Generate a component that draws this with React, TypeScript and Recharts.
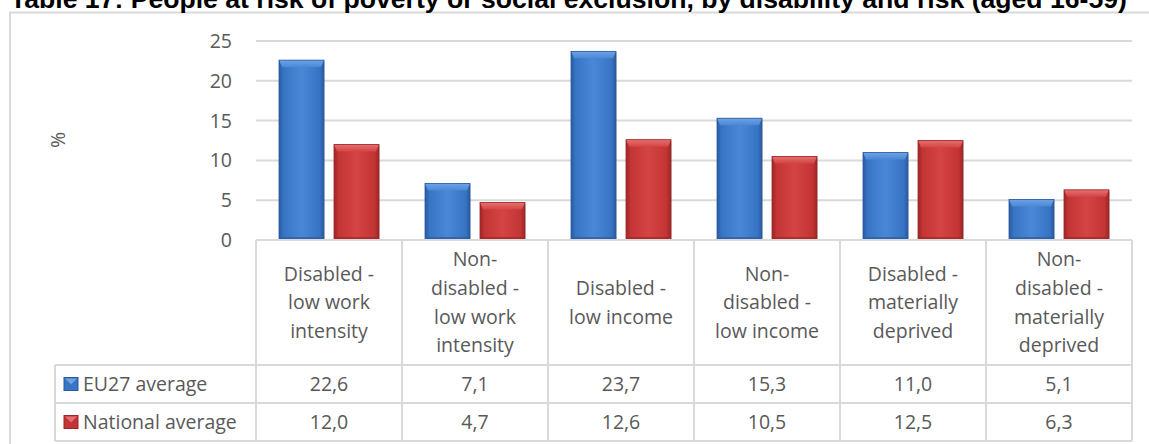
import React from 'react';
import { BarChart, Bar, XAxis, YAxis, CartesianGrid } from 'recharts';

// Categories of risk, split into the lines shown in the table header
const categories = [
  'Disabled - low work intensity',
  'Non-disabled - low work intensity',
  'Disabled - low income',
  'Non-disabled - low income',
  'Disabled - materially deprived',
  'Non-disabled - materially deprived',
];
const categoryLines = [
  ['Disabled -', 'low work', 'intensity'],
  ['Non-', 'disabled -', 'low work', 'intensity'],
  ['Disabled -', 'low income'],
  ['Non-', 'disabled -', 'low income'],
  ['Disabled -', 'materially', 'deprived'],
  ['Non-', 'disabled -', 'materially', 'deprived'],
];

// Series values (%)
const eu27Average = [22.6, 7.1, 23.7, 15.3, 11.0, 5.1];
const nationalAverage = [12.0, 4.7, 12.6, 10.5, 12.5, 6.3];

const seriesNames = ['EU27 average', 'National average'];
const yTicks = [0, 5, 10, 15, 20, 25];

const title =
  'Table 17: People at risk of poverty or social exclusion, by disability and risk (aged 16-59)';

const data = categories.map((name, i) => ({
  name,
  eu27: eu27Average[i],
  national: nationalAverage[i],
}));

// Layout
const W = 1149;
const H = 444;
const PLOT_LEFT = 256;
const PLOT_RIGHT = 1132;
const PLOT_TOP = 41;
const PLOT_BOTTOM = 240;
const HEADER_BOTTOM = 365;
const ROW1_BOTTOM = 403;
const ROW2_BOTTOM = 441;
const LEGEND_LEFT = 55;
const BAND = (PLOT_RIGHT - PLOT_LEFT) / categories.length;
const LINE_H = 28.7;

const FONT = "'Open Sans', sans-serif";
const TEXT_COLOR = '#595959';
const GRID = '#d9d9d9';
const FS = 19.5;

const BLUE = { dark: '#2a5a9e', mid: '#3874c4', light: '#4a88d6', top: '#6fa3e4' };
const RED = { dark: '#9c2626', mid: '#c33434', light: '#d44444', top: '#e57070' };

const fmt = (v: number) => v.toFixed(1).replace('.', ',');

function BevelBar(props: any) {
  const { x, y, width, height, pal, gid } = props;
  if (!height || height <= 0) return null;
  const b = Math.min(7, height / 2);
  const s = 3;
  return (
    <g>
      <defs>
        <linearGradient id={`${gid}-body`} x1="0" y1="0" x2="1" y2="0">
          <stop offset="0" stopColor={pal.dark} />
          <stop offset="0.1" stopColor={pal.mid} />
          <stop offset="0.5" stopColor={pal.light} />
          <stop offset="0.9" stopColor={pal.mid} />
          <stop offset="1" stopColor={pal.dark} />
        </linearGradient>
        <linearGradient id={`${gid}-top`} x1="0" y1="0" x2="0" y2="1">
          <stop offset="0" stopColor={pal.top} />
          <stop offset="1" stopColor={pal.light} />
        </linearGradient>
      </defs>
      <rect x={x + 1} y={y + 1} width={width} height={height} fill="rgba(0,0,0,0.12)" />
      <rect x={x} y={y} width={width} height={height} fill={`url(#${gid}-body)`} />
      <polygon
        points={`${x},${y} ${x + width},${y} ${x + width - s},${y + b} ${x + s},${y + b}`}
        fill={`url(#${gid}-top)`}
      />
      <polygon
        points={`${x},${y + height} ${x + width},${y + height} ${x + width - s},${y + height - 3} ${x + s},${y + height - 3}`}
        fill={pal.dark}
        opacity={0.7}
      />
      <rect x={x} y={y} width={width} height={height} fill="none" stroke={pal.dark} strokeWidth={0.8} />
    </g>
  );
}

function LegendIcon({ x, y, pal }: any) {
  return (
    <g>
      <rect x={x} y={y} width={14} height={13} fill={pal.mid} stroke={pal.dark} strokeWidth={1} />
      <polygon points={`${x + 1},${y + 1} ${x + 13},${y + 1} ${x + 7},${y + 7}`} fill={pal.top} />
    </g>
  );
}

function TableTick(props: any) {
  const { x, payload, index } = props;
  const cx = x;
  const left = cx - BAND / 2;
  const right = cx + BAND / 2;
  const lines = categoryLines[index] || [];
  const headerMid = (PLOT_BOTTOM + HEADER_BOTTOM) / 2;
  const first = headerMid - ((lines.length - 1) / 2) * LINE_H;
  const row1Mid = (HEADER_BOTTOM + ROW1_BOTTOM) / 2;
  const row2Mid = (ROW1_BOTTOM + ROW2_BOTTOM) / 2;
  const textProps = {
    fontFamily: FONT,
    fontSize: FS,
    fill: TEXT_COLOR,
    textAnchor: 'middle' as const,
    dy: '0.35em',
  };
  return (
    <g>
      {index === 0 && (
        <g>
          <line x1={LEGEND_LEFT} x2={left} y1={HEADER_BOTTOM} y2={HEADER_BOTTOM} stroke={GRID} strokeWidth={2} />
          <line x1={LEGEND_LEFT} x2={left} y1={ROW1_BOTTOM} y2={ROW1_BOTTOM} stroke={GRID} strokeWidth={2} />
          <line x1={LEGEND_LEFT} x2={left} y1={ROW2_BOTTOM} y2={ROW2_BOTTOM} stroke={GRID} strokeWidth={2} />
          <line x1={LEGEND_LEFT} x2={LEGEND_LEFT} y1={HEADER_BOTTOM} y2={ROW2_BOTTOM} stroke={GRID} strokeWidth={2} />
          <LegendIcon x={64} y={row1Mid - 6.5} pal={BLUE} />
          <LegendIcon x={64} y={row2Mid - 6.5} pal={RED} />
          <text x={83} y={row1Mid} fontFamily={FONT} fontSize={FS} fill={TEXT_COLOR} dy="0.35em">
            {seriesNames[0]}
          </text>
          <text x={83} y={row2Mid} fontFamily={FONT} fontSize={FS} fill={TEXT_COLOR} dy="0.35em">
            {seriesNames[1]}
          </text>
        </g>
      )}
      <line x1={left} x2={left} y1={PLOT_BOTTOM} y2={ROW2_BOTTOM} stroke={GRID} strokeWidth={2} />
      {index === categories.length - 1 && (
        <line x1={right} x2={right} y1={PLOT_BOTTOM} y2={ROW2_BOTTOM} stroke={GRID} strokeWidth={2} />
      )}
      <line x1={left} x2={right} y1={HEADER_BOTTOM} y2={HEADER_BOTTOM} stroke={GRID} strokeWidth={2} />
      <line x1={left} x2={right} y1={ROW1_BOTTOM} y2={ROW1_BOTTOM} stroke={GRID} strokeWidth={2} />
      <line x1={left} x2={right} y1={ROW2_BOTTOM} y2={ROW2_BOTTOM} stroke={GRID} strokeWidth={2} />
      {lines.map((ln, k) => (
        <text key={k} x={cx} y={first + k * LINE_H} {...textProps}>
          {ln}
        </text>
      ))}
      <text x={cx} y={row1Mid} {...textProps}>
        {fmt(eu27Average[index])}
      </text>
      <text x={cx} y={row2Mid} {...textProps}>
        {fmt(nationalAverage[index])}
      </text>
      <title>{payload && payload.value}</title>
    </g>
  );
}

const Y_AXIS_W = 60;
const X_AXIS_H = 30;

export default function App() {
  return (
    <div
      style={{
        position: 'fixed',
        left: 0,
        top: 0,
        width: W,
        height: H,
        overflow: 'hidden',
        background: '#ffffff',
      }}
    >
      <svg width={W} height={H} style={{ position: 'absolute', left: 0, top: 0 }}>
        <rect x={10} y={12.5} width={W + 50} height={H + 50} fill="#ffffff" stroke={GRID} strokeWidth={2} />
        <text
          x={10}
          y={8}
          fontFamily="'Liberation Sans', Arial, sans-serif"
          fontWeight="bold"
          fontSize={26.6}
          fill="#000000"
        >
          {title}
        </text>
        <text
          x={58}
          y={140}
          transform="rotate(-90 58 140)"
          fontFamily={FONT}
          fontSize={FS}
          fill={TEXT_COLOR}
          textAnchor="middle"
          dy="0.35em"
        >
          %
        </text>
      </svg>
      <div style={{ position: 'absolute', left: 0, top: 0 }}>
        <BarChart
          width={W}
          height={H}
          data={data}
          margin={{
            top: PLOT_TOP,
            right: W - PLOT_RIGHT,
            bottom: H - PLOT_BOTTOM - X_AXIS_H,
            left: PLOT_LEFT - Y_AXIS_W,
          }}
          barSize={45}
          barGap={10}
        >
          <CartesianGrid vertical={false} stroke={GRID} strokeWidth={2} />
          <YAxis
            width={Y_AXIS_W}
            domain={[0, 25]}
            ticks={yTicks}
            axisLine={false}
            tickLine={false}
            tickSize={0}
            tickMargin={24}
            tick={{ fontFamily: FONT, fontSize: FS, fill: TEXT_COLOR }}
          />
          <XAxis
            dataKey="name"
            height={X_AXIS_H}
            interval={0}
            axisLine={{ stroke: GRID, strokeWidth: 2 }}
            tickLine={false}
            tick={<TableTick />}
          />
          <Bar
            dataKey="eu27"
            name={seriesNames[0]}
            isAnimationActive={false}
            shape={(p: any) => <BevelBar {...p} pal={BLUE} gid="blue" />}
          />
          <Bar
            dataKey="national"
            name={seriesNames[1]}
            isAnimationActive={false}
            shape={(p: any) => <BevelBar {...p} pal={RED} gid="red" />}
          />
        </BarChart>
      </div>
    </div>
  );
}
